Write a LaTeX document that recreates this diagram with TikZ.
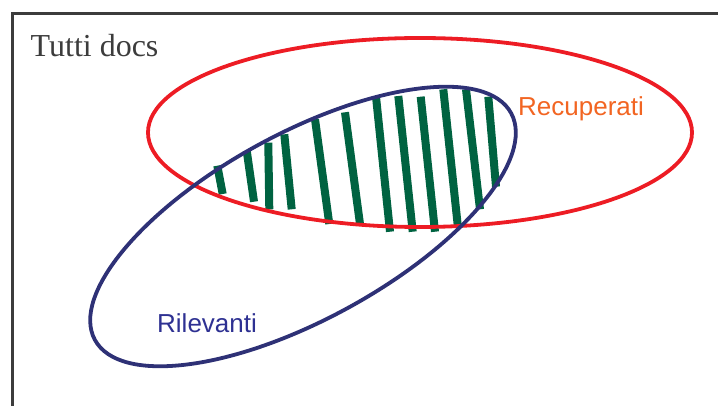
\documentclass[tikz,border=0pt]{standalone}
\usepackage{fontspec}
\setmainfont{Liberation Serif}
\newfontfamily\labelsans{Liberation Sans}
\definecolor{framegray}{HTML}{3C3C3C}
\definecolor{setred}{HTML}{ED1C24}
\definecolor{setblue}{HTML}{2E3176}
\definecolor{stripegreen}{HTML}{006341}
\definecolor{textorange}{HTML}{F26522}
\definecolor{textblue}{HTML}{2E3192}
\tikzset{
  frameline/.style={draw=framegray, line width=3pt},
  redset/.style={draw=setred, line width=3.8pt},
  blueset/.style={draw=setblue, line width=3.8pt},
  stripe/.style={draw=stripegreen, line width=8pt},
  lbl/.style={inner sep=0pt, anchor=base west}
}
\begin{document}
\begin{tikzpicture}[x=1pt,y=-1pt]
\useasboundingbox (0,0) rectangle (718,406);
\begin{scope}
\clip (0,0) rectangle (718,406);
\draw[frameline] (12.5,13.5) rectangle (740,430);
\end{scope}
% stripes of the intersection
\foreach \xa/\ya/\xb/\yb in {
  217.3/165.7/222.7/194,
  246.7/150.7/254/201.7,
  268.3/142.7/269.3/209.3,
  284.3/134.3/291.7/209.3,
  315/119.3/329.3/224,
  345/112.3/360/224,
  376/96.7/390/231.7,
  398.3/96/412.7/231.7,
  420.7/96.7/435/231.7,
  443.3/89.3/457.7/225,
  466/89.3/480/209.3,
  488.3/96.7/496/186.7}
  {\draw[stripe] (\xa,\ya) -- (\xb,\yb);}
% Recuperati (red ellipse)
\draw[redset] (420,132.5) ellipse [x radius=272pt, y radius=94.5pt];
% Rilevanti (blue ellipse)
\draw[blueset, rotate around={28.6:(303,226.5)}] (303,226.5) ellipse [x radius=237pt, y radius=93pt];
% labels
\node[lbl, text=framegray, font=\fontsize{32}{32}\selectfont] (tutti) at (30.5,56.5) {Tutti docs};
\node[lbl, text=textorange, font=\labelsans\fontsize{26}{26}\selectfont] (recup) at (518,116) {Recuperati};
\node[lbl, text=textblue, font=\labelsans\fontsize{26}{26}\selectfont] (rilev) at (157,332.3) {Rilevanti};
\end{tikzpicture}
\end{document}
